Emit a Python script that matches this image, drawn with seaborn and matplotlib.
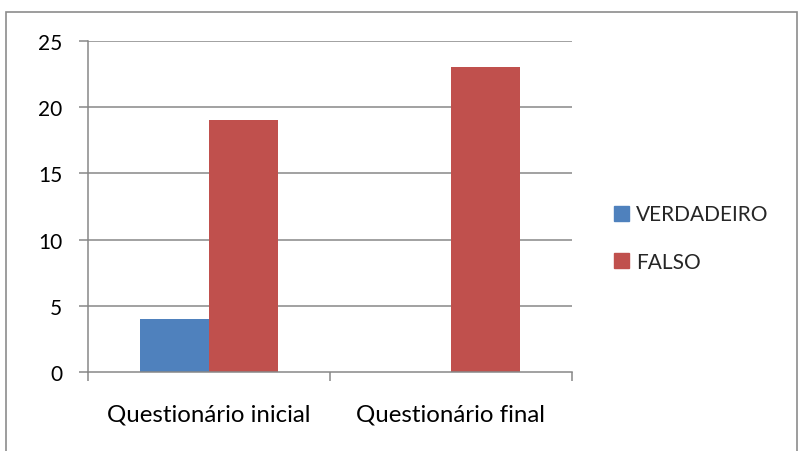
import matplotlib
matplotlib.use("Agg")
import matplotlib.pyplot as plt
import matplotlib.patches as mpatches
import seaborn as sns
import pandas as pd

categories = ["Questionário inicial", "Questionário final"]
series_names = ["VERDADEIRO", "FALSO"]
verdadeiro = [4, 0]
falso = [19, 23]
y_ticks = [0, 5, 10, 15, 20, 25]

colors = {"VERDADEIRO": "#4F81BD", "FALSO": "#C0504D"}
grid_gray = "#878787"

df = pd.DataFrame({
    "categoria": categories * 2,
    "serie": [series_names[0]] * len(categories) + [series_names[1]] * len(categories),
    "valor": verdadeiro + falso,
})

sns.set_theme(style="white")
plt.rcParams["font.family"] = ["Lato", "DejaVu Sans"]

fig = plt.figure(figsize=(7.98, 4.52), dpi=100)
ax = fig.add_axes([88 / 798, 1 - 373 / 452, (572 - 88) / 798, (373 - 42) / 452])

sns.barplot(data=df, x="categoria", y="valor", hue="serie", hue_order=series_names,
            order=categories, palette=colors, width=0.57, gap=0, ax=ax,
            saturation=1, legend=False, linewidth=0, edgecolor="none")

ax.set_xlim(-0.5, 1.5)
ax.set_ylim(0, 25)
ax.set_yticks(y_ticks)
ax.set_xlabel("")
ax.set_ylabel("")

for y in y_ticks[1:]:
    ax.axhline(y, color=grid_gray, lw=1.1, zorder=0)

for side in ["top", "right"]:
    ax.spines[side].set_visible(False)
for side in ["left", "bottom"]:
    ax.spines[side].set_color(grid_gray)
    ax.spines[side].set_linewidth(1.1)

ax.tick_params(axis="y", length=6.5, width=1.1, color=grid_gray, direction="out",
               pad=12, labelsize=15, labelcolor="black", left=True)
ax.set_xticks([-0.5, 0.5, 1.5], minor=True)
ax.tick_params(axis="x", which="minor", length=6.5, width=1.1, color=grid_gray,
               direction="out", bottom=True)
ax.tick_params(axis="x", which="major", length=0, pad=23, labelsize=17.3,
               labelcolor="black")

handles = [mpatches.Patch(color=colors[s], label=s) for s in series_names]
fig.legend(handles=handles, loc="upper left", bbox_to_anchor=(604 / 798, 1 - 195 / 452),
           frameon=False, fontsize=15, handlelength=0.72, handleheight=0.72,
           handletextpad=0.3, labelspacing=1.32, borderpad=0)

# outer chart frame
fig.patches.append(mpatches.Rectangle((6 / 798, -0.01), (797 - 6) / 798, 1 - 13 / 452 + 0.01,
                                      transform=fig.transFigure, fill=False,
                                      edgecolor="#8c8c8c", lw=1.2))

fig.savefig("out.png", dpi=100)
